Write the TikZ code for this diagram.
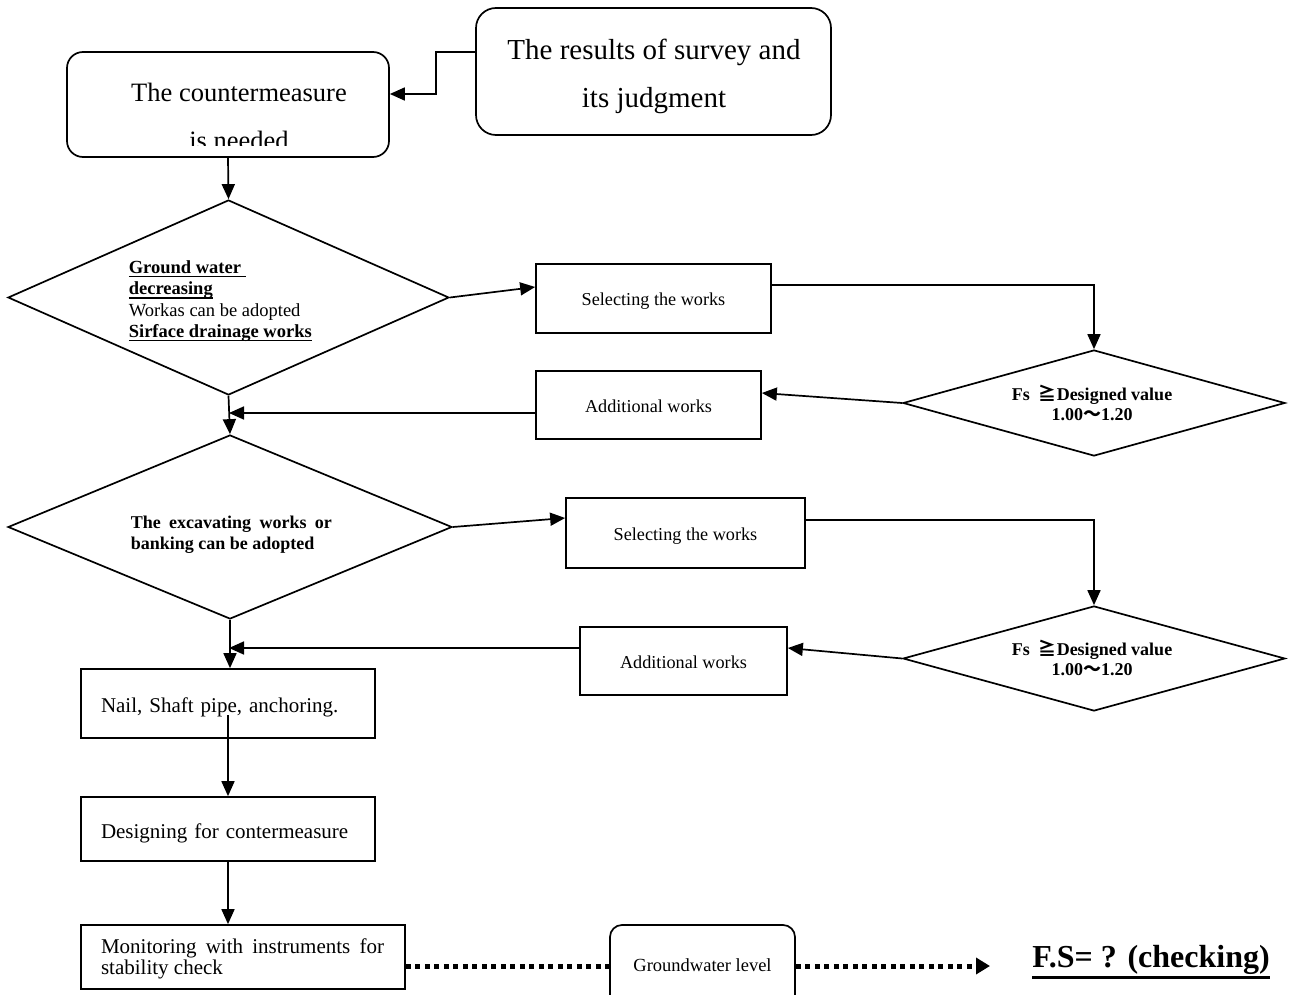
\documentclass[tikz,border=0pt]{standalone}
\usepackage{fontspec}
\setmainfont{Liberation Serif}
\newfontfamily\cjk{Noto Sans CJK JP}
\usetikzlibrary{shapes.geometric,arrows.meta}
\newcommand{\dn}[2]{\raisebox{-#1}[\height][\depth]{#2}}
\newcommand{\thul}[3]{\leavevmode\setbox0\hbox{#3}\rlap{\rule[-#1]{\wd0}{#2}}\box0}
\begin{document}
\begin{tikzpicture}[x=1pt,y=-1pt,
  line width=1.7pt,
  box/.style={draw, rectangle, inner sep=0pt, line width=1.7pt},
  rbox/.style={box, rounded corners=16pt},
  dia/.style={draw, diamond, inner sep=0pt, line width=1.7pt},
  arr/.style={-{Triangle[length=15pt,width=13pt]}},
  dotline/.style={line width=5pt, dash pattern=on 5pt off 4.5pt},
  small/.style={font=\fontsize{18.2}{21}\selectfont},
  mid/.style={font=\fontsize{21}{21}\selectfont},
  txt/.style={inner sep=0pt},
]
\clip (0,0) rectangle (1291,995);
\fill[white] (0,0) rectangle (1291,995);

% top boxes
\node[rbox, minimum width=322pt, minimum height=105pt] (a) at (228,104.5) {};
\begin{scope}
\clip (67,52) rectangle (389,146);
\node[txt, align=center, font=\fontsize{26.5}{48}\selectfont] (at) at (239,116) {The countermeasure\\is needed};
\end{scope}
\node[rbox, rounded corners=20pt, minimum width=355pt, minimum height=127pt] (b) at (653.5,71.5) {};
\node[txt, align=center, font=\fontsize{29}{48}\selectfont] (bt) at (654,76.5)
      {The results of survey and\\its judgment};
\draw[arr] ([yshift=19.5pt]b.west) -- ++(-39,0) |- ([yshift=10.5pt]a.east);

% first decision
\node[dia, minimum width=441pt, minimum height=195pt] (d1) at (228.5,297.5) {};
\node[txt, anchor=west, align=left, font=\fontsize{18.5}{21.3}\selectfont] (d1t) at (128,301)
  {\thul{4pt}{1.8pt}{\textbf{Ground water\ }}\\\thul{4pt}{1.8pt}{\textbf{decreasing}}\\Workas can be adopted\\\thul{4pt}{1.8pt}{\textbf{Sirface drainage works}}};
\draw[arr] (a.south) -- (d1.north);

\node[box, small, minimum width=235pt, minimum height=69pt] (s1) at (653.5,298.5) {\dn{3pt}{Selecting the works}};
\draw[arr] (d1.east) -- ([yshift=11.5pt]s1.west);

\node[dia, minimum width=382pt, minimum height=106pt] (fs1) at (1094,403) {};
\node[txt, align=center, font=\fontsize{18}{20}\selectfont\bfseries] (fs1t) at (1092,402.5)
  {Fs\ \ {\cjk ≧}Designed value\\1.00{\cjk ～}1.20};
\draw[arr] ([yshift=13.5pt]s1.east) -| (fs1.north);

\node[box, small, minimum width=225pt, minimum height=68pt] (aw1) at (648.5,405) {\dn{1pt}{Additional works}};
\draw[arr] (fs1.west) -- ([yshift=12pt]aw1.east);
\coordinate (j1) at (229,413);
\draw[arr] (aw1.west |- j1) -- (j1);

% second decision
\node[dia, minimum width=444pt, minimum height=184pt] (d2) at (230,527) {};
\node[txt, anchor=west, text width=201pt, align=justify, font=\fontsize{18}{21}\selectfont\bfseries] (d2t) at (130,535)
  {The excavating works or banking can be adopted};
\draw[arr] (d1.south) -- (d2.north);

\node[box, small, minimum width=239pt, minimum height=70pt] (s2) at (685.5,533) {\dn{3pt}{Selecting the works}};
\draw[arr] (d2.east) -- ([yshift=15pt]s2.west);

\node[dia, minimum width=382pt, minimum height=105pt] (fs2) at (1094,658.5) {};
\node[txt, align=center, font=\fontsize{18}{20}\selectfont\bfseries] (fs2t) at (1092,658)
  {Fs\ \ {\cjk ≧}Designed value\\1.00{\cjk ～}1.20};
\draw[arr] ([yshift=13pt]s2.east) -| (fs2.north);

\node[box, small, minimum width=207pt, minimum height=68pt] (aw2) at (683.5,661) {\dn{1pt}{Additional works}};
\draw[arr] (fs2.west) -- ([yshift=13pt]aw2.east);
\coordinate (j2) at (229,648);
\draw[arr] (aw2.west |- j2) -- (j2);

% lower chain
\node[box, mid, minimum width=294pt, minimum height=69pt, inner xsep=20pt, text width=254pt, align=left] (n) at (228,703.5)
  {\dn{4pt}{Nail, Shaft pipe, anchoring.}};
\draw[arr] (d2.south) -- (d2.south |- n.north);

\node[box, mid, minimum width=294pt, minimum height=64pt, inner xsep=20pt, text width=254pt, align=left] (d) at (228,829)
  {\dn{4pt}{Designing for contermeasure}};
\draw[arr] ([yshift=-11.5pt]n.center) -- (d.north);

\node[box, minimum width=324pt, minimum height=64pt] (m) at (243,957) {};
\node[txt, mid, text width=283pt, align=justify] (mt) at (242.5,958.5)
  {Monitoring with instruments for stability check};
\draw[arr] (d.south) -- (d.south |- m.north);

\node[rbox, rounded corners=12pt, font=\fontsize{18.5}{20}\selectfont, minimum width=185pt, minimum height=82pt] (g) at (702.5,966)
  {\dn{-1pt}{Groundwater level}};
\draw[dotline] ([yshift=-9pt]m.east) -- (g.west);
\coordinate (fsend) at (990,966);
\draw[dotline, -{Triangle[length=14pt,width=16pt]}] (g.east) -- (fsend);

\node[txt, font=\fontsize{32}{32}\selectfont\bfseries] (fs) at (1151,962) {\thul{11pt}{3pt}{F.S= ? (checking)}};
\end{tikzpicture}
\end{document}
